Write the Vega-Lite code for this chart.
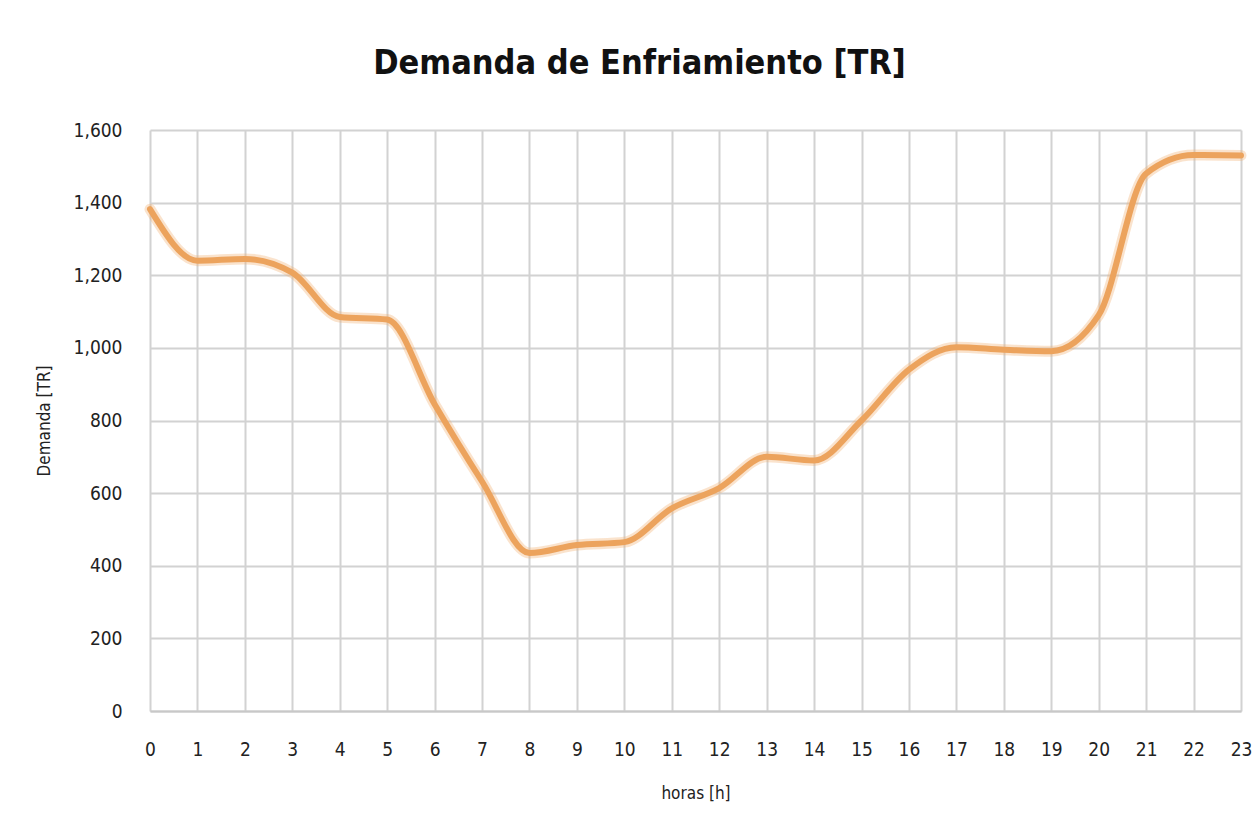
{
  "$schema": "https://vega.github.io/schema/vega-lite/v6.json",
  "autosize": {"type": "none"},
  "width": 1091,
  "height": 581,
  "padding": {"left": 150, "top": 130, "right": 16, "bottom": 102},
  "background": "white",
  "title": {
    "text": "Demanda de Enfriamiento [TR]",
    "font": "DejaVu Sans Condensed, DejaVu Sans",
    "fontSize": 34,
    "fontWeight": "bold",
    "color": "#111111",
    "anchor": "middle",
    "frame": "group",
    "dx": -56,
    "offset": 40
  },
  "data": {
    "values": [
      {"hora": 0, "demanda": 1382},
      {"hora": 1, "demanda": 1240},
      {"hora": 2, "demanda": 1245},
      {"hora": 3, "demanda": 1207},
      {"hora": 4, "demanda": 1085},
      {"hora": 5, "demanda": 1078},
      {"hora": 6, "demanda": 845},
      {"hora": 7, "demanda": 632},
      {"hora": 8, "demanda": 435},
      {"hora": 9, "demanda": 457},
      {"hora": 10, "demanda": 465},
      {"hora": 11, "demanda": 558},
      {"hora": 12, "demanda": 614},
      {"hora": 13, "demanda": 700},
      {"hora": 14, "demanda": 690},
      {"hora": 15, "demanda": 800},
      {"hora": 16, "demanda": 940},
      {"hora": 17, "demanda": 1002},
      {"hora": 18, "demanda": 995},
      {"hora": 19, "demanda": 991},
      {"hora": 20, "demanda": 1090},
      {"hora": 21, "demanda": 1480},
      {"hora": 22, "demanda": 1531},
      {"hora": 23, "demanda": 1530}
    ]
  },
  "encoding": {
    "x": {
      "field": "hora",
      "type": "quantitative",
      "title": "horas [h]",
      "scale": {"domain": [0, 23], "nice": false, "zero": false},
      "axis": {
        "values": [0,1,2,3,4,5,6,7,8,9,10,11,12,13,14,15,16,17,18,19,20,21,22,23],
        "labelFont": "DejaVu Sans Condensed, DejaVu Sans",
        "labelFontSize": 19,
        "labelColor": "#222222",
        "labelPadding": 29,
        "labelFlush": false,
        "ticks": false,
        "domainColor": "#c8c8c8",
        "domainWidth": 2,
        "gridColor": "#d2d2d2",
        "gridWidth": 2,
        "titleFont": "DejaVu Sans Condensed, DejaVu Sans",
        "titleFontSize": 17,
        "titleFontWeight": "normal",
        "titleColor": "#222222",
        "titlePadding": 26
      }
    },
    "y": {
      "field": "demanda",
      "type": "quantitative",
      "title": "Demanda [TR]",
      "scale": {"domain": [0, 1600], "nice": false},
      "axis": {
        "values": [0,200,400,600,800,1000,1200,1400,1600],
        "format": ",.0f",
        "labelFont": "DejaVu Sans Condensed, DejaVu Sans",
        "labelFontSize": 19,
        "labelColor": "#222222",
        "labelPadding": 28,
        "labelFlush": false,
        "ticks": false,
        "domain": false,
        "gridColor": "#d2d2d2",
        "gridWidth": 2,
        "titleFont": "DejaVu Sans Condensed, DejaVu Sans",
        "titleFontSize": 17,
        "titleFontWeight": "normal",
        "titleColor": "#222222",
        "titlePadding": 20
      }
    }
  },
  "layer": [
    {
      "mark": {"type": "line", "interpolate": "monotone", "stroke": "#f0b070", "strokeWidth": 11, "opacity": 0.35, "strokeCap": "round"}
    },
    {
      "mark": {"type": "line", "interpolate": "monotone", "stroke": "#eca35d", "strokeWidth": 6, "strokeCap": "round"}
    }
  ],
  "config": {"view": {"stroke": null}}
}
